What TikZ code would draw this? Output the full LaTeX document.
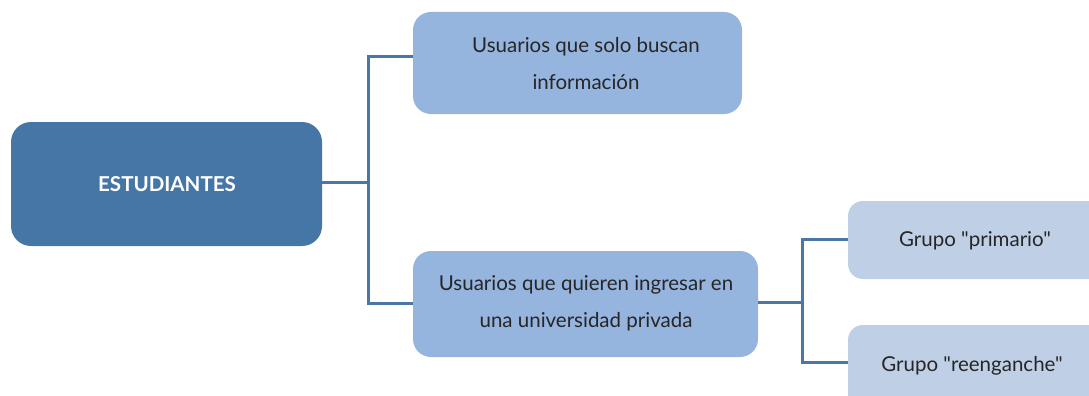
\documentclass[tikz,border=0pt]{standalone}
\usepackage{fontspec}
\setmainfont{Lato}[Ligatures=TeXOff]
\definecolor{dark}{HTML}{4576A5}
\definecolor{mid}{HTML}{95B4DE}
\definecolor{light}{HTML}{BFCFE6}
\definecolor{line}{HTML}{4A77A6}
\begin{document}
\begin{tikzpicture}[x=1pt,y=-1pt,
  conn/.style={draw=line,line width=3pt},
  lbl/.style={font=\fontsize{20.5}{37}\selectfont,align=center,text=black!85}]
\clip (0,0) rectangle (1089,396);
\useasboundingbox (0,0) rectangle (1089,396);
% boxes
\path[fill=dark,rounded corners=20pt] (11,122) rectangle (322,246);
\node[font=\fontsize{20.5}{24}\selectfont\bfseries,text=white] (est) at (167,184) {ESTUDIANTES};
\coordinate (estR) at (322,182);
\path[fill=mid,rounded corners=18pt] (413,12) rectangle (742,114);
\node[lbl] (top) at (586,64) {Usuarios que solo buscan\\información};
\coordinate (topL) at (413,57);
\path[fill=mid,rounded corners=18pt] (413,251) rectangle (758,357);
\node[lbl] (mid) at (586,303) {Usuarios que quieren ingresar en\\una universidad privada};
\coordinate (midL) at (413,303);
\coordinate (midR) at (758,302);
\path[fill=light,rounded corners=15pt] (848,201) rectangle (1110,279);
\node[lbl] (g1) at (975,241) {Grupo "primario"};
\coordinate (g1L) at (848,239);
\path[fill=light,rounded corners=15pt] (848,325) rectangle (1110,420);
\node[lbl] (g2) at (972,366) {Grupo "reenganche"};
\coordinate (g2L) at (848,362);
% connectors
\coordinate (j1) at (368,182);
\draw[conn] (estR) -- (j1);
\draw[conn] (topL) -| (j1) |- (midL);
\coordinate (j2) at (802,302);
\draw[conn] (midR) -- (j2);
\draw[conn] (g1L) -| (j2) |- (g2L);
\end{tikzpicture}
\end{document}
